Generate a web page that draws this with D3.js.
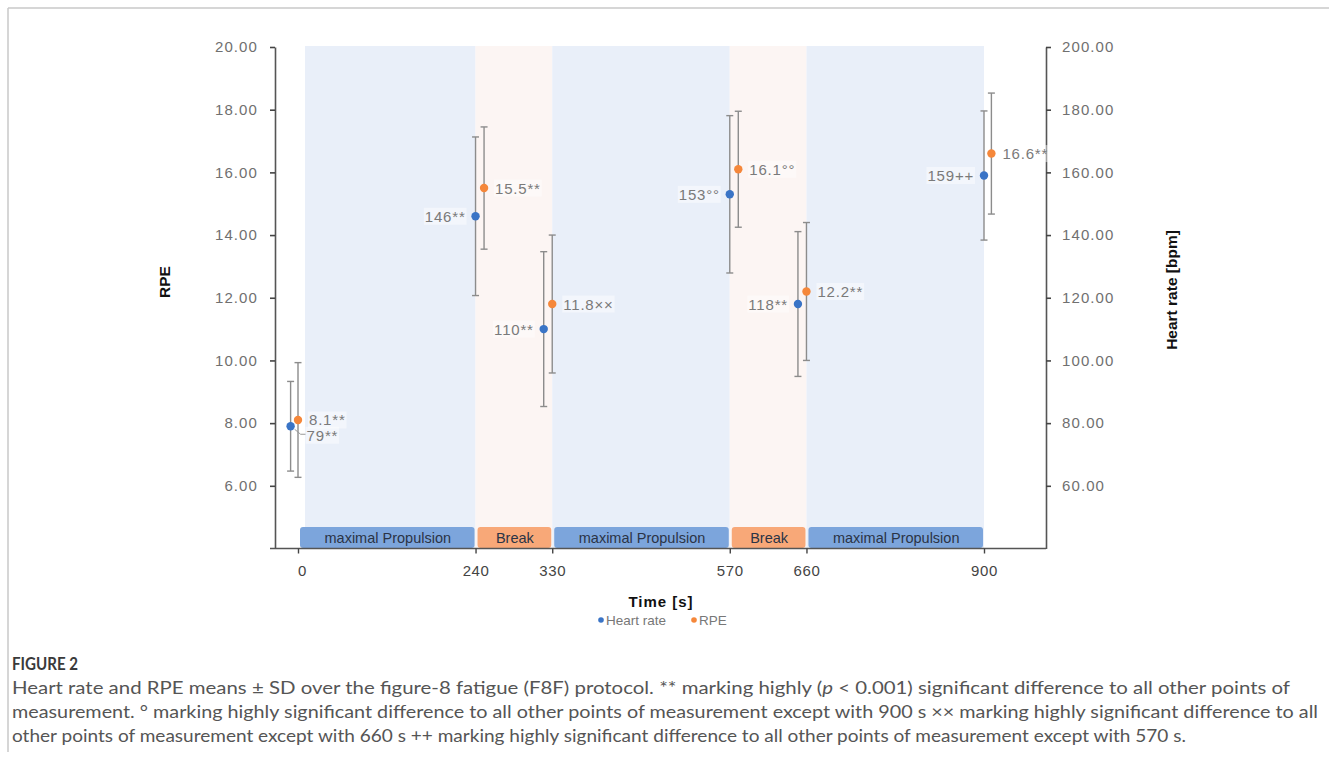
<!DOCTYPE html>
<html><head><meta charset="utf-8">
<script src="https://cdn.jsdelivr.net/npm/d3@7"></script>
<style>
html,body{margin:0;padding:0;background:#fff;}
svg{display:block;}
</style></head>
<body>
<svg id="c" width="1329" height="767"></svg>
<script>
// ---- data ----
const tickTimes = [0, 240, 330, 570, 660, 900];
const hrTime  = [-10, 240, 320, 570, 650, 900];
const rpeTime = [0, 250, 330, 580, 660, 910];
const hrMean = [79, 146, 110, 153, 118, 159];
const hrSD   = [14.3, 25.3, 24.7, 25.1, 23.1, 20.6];
const hrMark = ["**", "**", "**", "°°", "**", "++"];
const rpeMean = [8.1, 15.5, 11.8, 16.1, 12.2, 16.6];
const rpeSD   = [1.83, 1.95, 2.2, 1.85, 2.2, 1.93];
const rpeMark = ["**", "**", "××", "°°", "**", "**"];
const phaseNames = ["maximal Propulsion", "Break", "maximal Propulsion", "Break", "maximal Propulsion"];
const phaseStart = [0, 240, 330, 570, 660];
const phaseEnd   = [240, 330, 570, 660, 900];
const rpeTicks = [6, 8, 10, 12, 14, 16, 18, 20];
const hrTicks = [60, 80, 100, 120, 140, 160, 180, 200];
const captionTitle = "FIGURE 2";

const svg = d3.select("#c");
const FONT = "'Liberation Sans', Arial, sans-serif";

// frame
svg.append("line").attr("x1", 8).attr("x2", 1329).attr("y1", 8).attr("y2", 8).attr("stroke", "#c8c8c8").attr("stroke-width", 1.5);
svg.append("line").attr("x1", 8).attr("x2", 8).attr("y1", 8).attr("y2", 752).attr("stroke", "#c8c8c8").attr("stroke-width", 1.5);

// ---- scales ----
const pL = 275, pR = 1046, pT = 47, pB = 548.5;
const x0 = 298, x1 = 984;
// segment weights: breaks are drawn narrower than propulsion phases
const segW = tickTimes.slice(1).map((t, i) => (t - tickTimes[i]) === 90 ? 0.432 : 1);
const totW = d3.sum(segW);
let acc = 0;
const xRangeVals = [x0].concat(segW.map(w => { acc += w; return x0 + (x1 - x0) * acc / totW; }));
const x = d3.scaleLinear().domain(tickTimes).range(xRangeVals);
const yR = d3.scaleLinear().domain([4, 20]).range([pB, pT]);
const yH = d3.scaleLinear().domain([40, 200]).range([pB, pT]);

const phases = phaseNames.map((n, i) => ({name: n, s: phaseStart[i], e: phaseEnd[i], brk: n === "Break"}));

// background bands
svg.append("g").selectAll("rect").data(phases).join("rect")
  .attr("x", d => x(d.s) + (d.s === 0 ? 7 : 0))
  .attr("width", d => x(d.e) - x(d.s) - (d.s === 0 ? 7 : 0))
  .attr("y", yR(20) - 1).attr("height", pB - yR(20) + 1)
  .attr("fill", d => d.brk ? "#fcf5f3" : "#e9eff9");

// phase label boxes
const pbx = svg.append("g");
pbx.selectAll("rect").data(phases).join("rect")
  .attr("x", d => x(d.s) + 2).attr("width", d => x(d.e) - x(d.s) - 3)
  .attr("y", 527).attr("height", 21).attr("rx", 3)
  .attr("fill", d => d.brk ? "#f8a878" : "#7ca5dc");
pbx.selectAll("text").data(phases).join("text")
  .attr("x", d => (x(d.s) + x(d.e)) / 2 + 1).attr("y", 543)
  .attr("text-anchor", "middle").attr("font-family", FONT).attr("font-size", 14.5)
  .attr("fill", "#2b3446").text(d => d.name);

// ---- axes ----
const axL = svg.append("g").attr("transform", `translate(${pL},0)`)
  .call(d3.axisLeft(yR).tickValues(rpeTicks).tickFormat(d3.format(".2f")).tickSize(5).tickSizeOuter(0).tickPadding(12));
const axR = svg.append("g").attr("transform", `translate(${pR},0)`)
  .call(d3.axisRight(yH).tickValues(hrTicks).tickFormat(d3.format(".2f")).tickSize(5).tickSizeOuter(0).tickPadding(11));
[axL, axR].forEach(a => {
  a.select(".domain").attr("stroke", "#555").attr("stroke-width", 1.6);
  a.selectAll(".tick line").attr("stroke", "#444").attr("stroke-width", 1.6);
  a.selectAll(".tick text").attr("font-family", FONT).attr("font-size", 15).attr("fill", "#707070").attr("letter-spacing", 1.1);
});
// bottom axis
const axB = svg.append("g").attr("transform", `translate(0,${pB})`)
  .call(d3.axisBottom(x).tickValues(tickTimes).tickFormat(d3.format("d")).tickSize(5).tickSizeOuter(0).tickPadding(12));
axB.select(".domain").attr("d", `M${pL - 5},0H${pR}`).attr("stroke", "#555").attr("stroke-width", 1.6);
axB.selectAll(".tick line").attr("stroke", "#444").attr("stroke-width", 1.4);
axB.selectAll(".tick text").attr("font-family", FONT).attr("font-size", 15).attr("fill", "#444").attr("letter-spacing", 0.6)
  .attr("dx", d => d === 0 ? 4 : 0);

// axis titles
svg.append("text").attr("transform", "translate(170,282) rotate(-90)").attr("text-anchor", "middle")
  .attr("font-family", FONT).attr("font-weight", "bold").attr("font-size", 15.5).attr("fill", "#111").text("RPE");
svg.append("text").attr("transform", "translate(1177,290) rotate(-90)").attr("text-anchor", "middle")
  .attr("font-family", FONT).attr("font-weight", "bold").attr("font-size", 15.5).attr("fill", "#111").text("Heart rate [bpm]");
svg.append("text").attr("x", 661).attr("y", 607).attr("text-anchor", "middle")
  .attr("font-family", FONT).attr("font-weight", "bold").attr("font-size", 15).attr("letter-spacing", 1).attr("fill", "#111").text("Time [s]");

// legend
const lg = svg.append("g").attr("font-family", FONT).attr("font-size", 13.5).attr("fill", "#777");
[{name: "Heart rate", c: "#3a74c6", x: 601}, {name: "RPE", c: "#f5873a", x: 694}].forEach(d => {
  lg.append("circle").attr("cx", d.x).attr("cy", 620).attr("r", 2.8).attr("fill", d.c);
  lg.append("text").attr("x", d.x + 5).attr("y", 625).text(d.name);
});

// ---- data marks ----
const hr = hrMean.map((v, i) => ({t: hrTime[i], v, sd: hrSD[i], lab: v + hrMark[i]}));
const rpe = rpeMean.map((v, i) => ({t: rpeTime[i], v, sd: rpeSD[i], lab: d3.format(".1f")(v) + rpeMark[i]}));

function errBars(data, y, cls) {
  const g = svg.append("g").attr("class", cls).attr("stroke", "#8c8c8c").attr("stroke-width", 1.4);
  data.forEach(d => {
    const xx = x(d.t), yt = y(d.v + d.sd), yb = y(d.v - d.sd);
    g.append("line").attr("x1", xx).attr("x2", xx).attr("y1", yt).attr("y2", yb);
    g.append("line").attr("x1", xx - 3.5).attr("x2", xx + 3.5).attr("y1", yt).attr("y2", yt);
    g.append("line").attr("x1", xx - 3.5).attr("x2", xx + 3.5).attr("y1", yb).attr("y2", yb);
  });
}
errBars(hr, yH, "hrErr");
errBars(rpe, yR, "rpeErr");

// leader line for first HR label
svg.append("path")
  .attr("d", `M${x(hr[0].t) + 4},${yH(hr[0].v) + 3}L${x(hr[0].t) + 10},${yH(hr[0].v) + 8}H${x(hr[0].t) + 15}`)
  .attr("fill", "none").attr("stroke", "#999").attr("stroke-width", 1);

svg.append("g").selectAll("circle").data(hr).join("circle")
  .attr("cx", d => x(d.t)).attr("cy", d => yH(d.v)).attr("r", 4.2).attr("fill", "#3a74c6");
svg.append("g").selectAll("circle").data(rpe).join("circle")
  .attr("cx", d => x(d.t)).attr("cy", d => yR(d.v)).attr("r", 4.2).attr("fill", "#f5873a");

// data labels
const labG = svg.append("g").attr("font-family", FONT).attr("font-size", 15).attr("fill", "#7a7a7a").attr("letter-spacing", 0.8);
function addLabel(tx, ty, txt, anchor) {
  const t = labG.append("text").attr("x", tx).attr("y", ty + 5.5).attr("text-anchor", anchor).text(txt);
  const bb = t.node().getBBox();
  labG.insert("rect", "text").attr("x", bb.x - 1).attr("y", bb.y).attr("width", bb.width + 2).attr("height", bb.height)
    .attr("fill", "#fff").attr("opacity", 0.45);
}
hr.forEach((d, i) => {
  if (i === 0) addLabel(x(d.t) + 16, yH(d.v) + 9, d.lab, "start");
  else addLabel(x(d.t) - 10, yH(d.v), d.lab, "end");
});
rpe.forEach(d => addLabel(x(d.t) + 11, yR(d.v), d.lab, "start"));

// ---- caption ----
const CF = "Lato, 'Open Sans', sans-serif";
svg.append("text").attr("x", 12).attr("y", 670).attr("font-family", CF).attr("font-size", 16.5)
  .attr("font-weight", "bold").attr("fill", "#3a3a3a").attr("textLength", 66).attr("lengthAdjust", "spacingAndGlyphs").text(captionTitle);
const cap = svg.append("g").attr("font-family", CF).attr("font-size", 17.5).attr("fill", "#555");
const l1 = cap.append("text").attr("x", 12).attr("y", 693.5).attr("textLength", 1278).attr("lengthAdjust", "spacingAndGlyphs");
l1.append("tspan").text("Heart rate and RPE means ± SD over the figure-8 fatigue (F8F) protocol. ** marking highly (");
l1.append("tspan").attr("font-style", "italic").text("p");
l1.append("tspan").text(" < 0.001) significant difference to all other points of");
cap.append("text").attr("x", 12).attr("y", 717.5).attr("textLength", 1306).attr("lengthAdjust", "spacingAndGlyphs")
  .text("measurement. ° marking highly significant difference to all other points of measurement except with 900 s ×× marking highly significant difference to all");
cap.append("text").attr("x", 12).attr("y", 741.5).attr("textLength", 1174).attr("lengthAdjust", "spacingAndGlyphs")
  .text("other points of measurement except with 660 s ++ marking highly significant difference to all other points of measurement except with 570 s.");
</script>
</body></html>
